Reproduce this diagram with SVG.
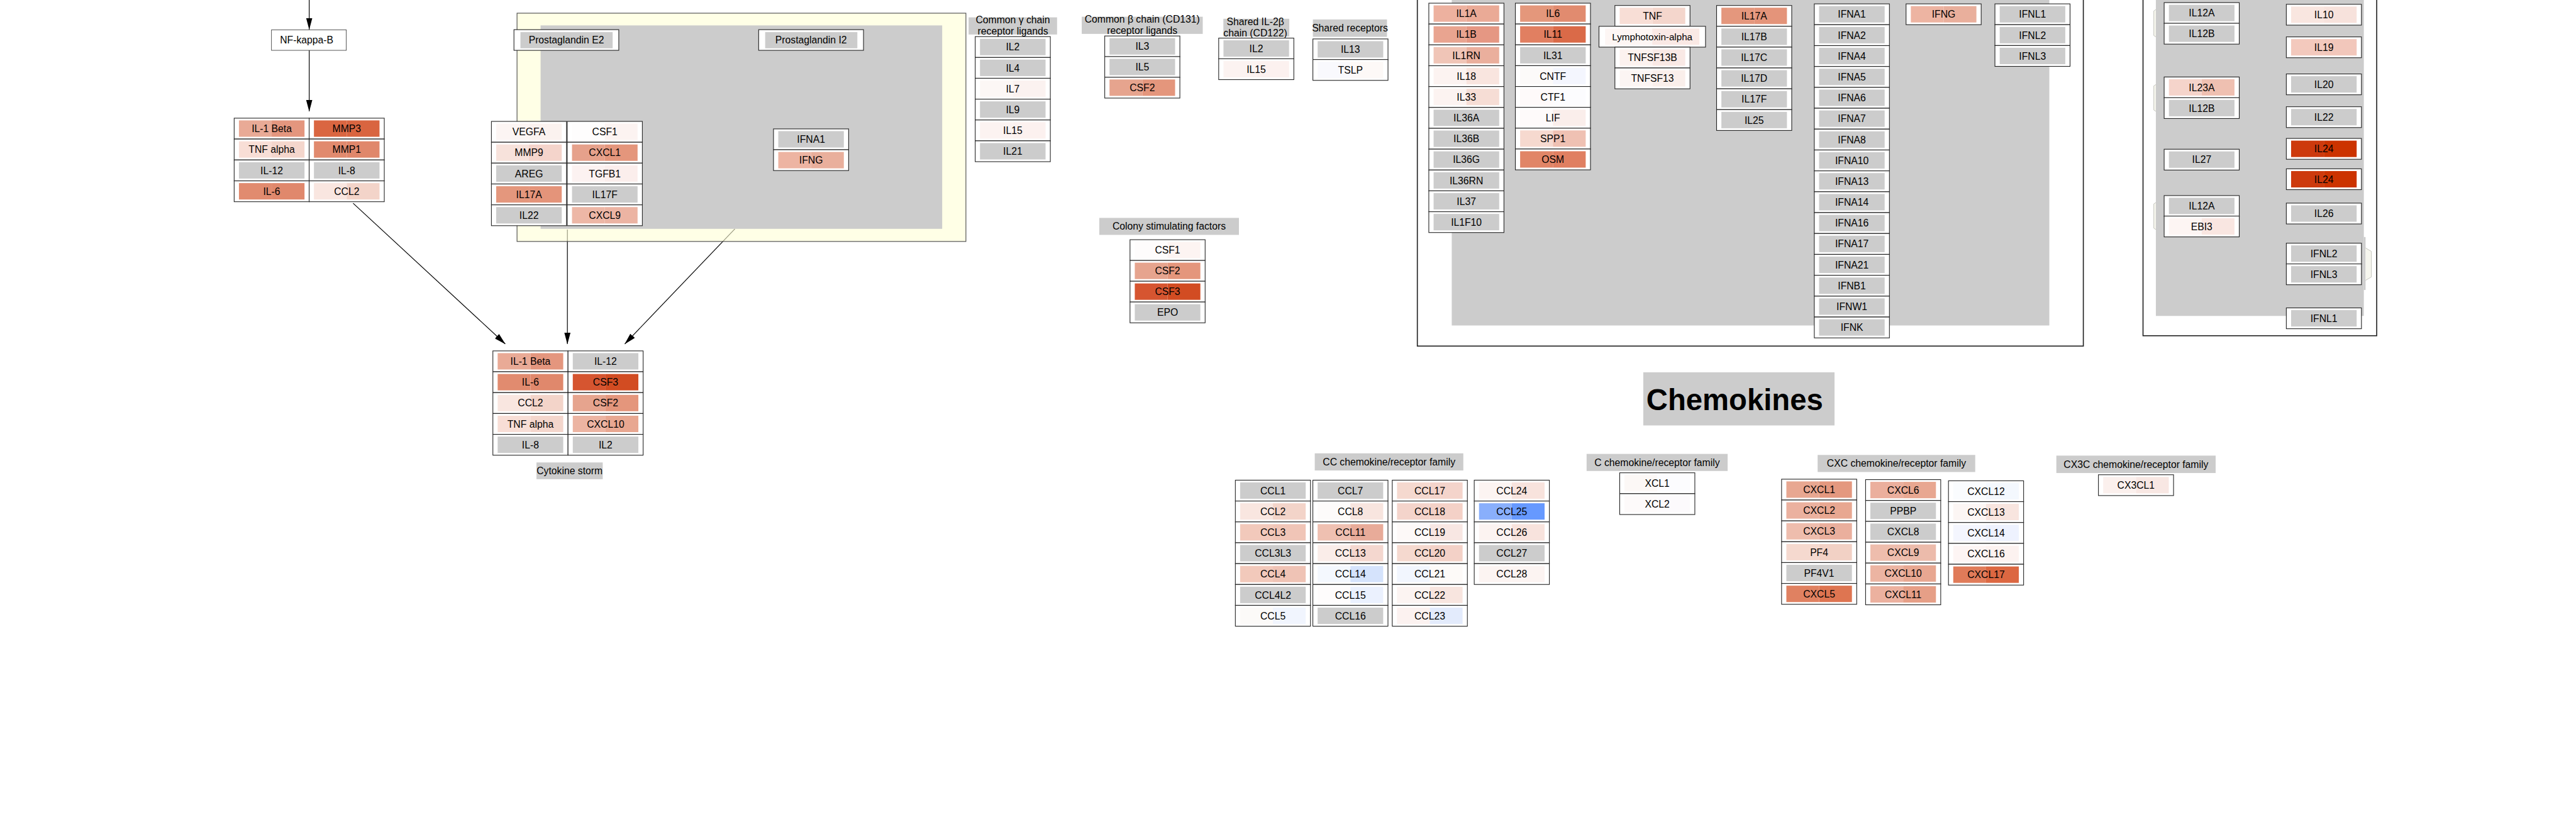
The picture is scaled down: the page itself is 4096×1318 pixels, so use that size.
<svg xmlns="http://www.w3.org/2000/svg" xmlns:xlink="http://www.w3.org/1999/xlink" width="4096" height="1318" viewBox="0 0 4096 1318">
<style>
text{font-family:"Liberation Sans",Arial,Helvetica,sans-serif;font-size:29px;fill:#000;text-anchor:middle}
.bx{fill:#fff;stroke:#222;stroke-width:2}
.gy{fill:#ccc}
.lab{fill:#ccc}
.conn{stroke:#000;stroke-width:2.2;fill:none;marker-end:url(#ah)}
.frame{fill:#fff;stroke:#222;stroke-width:3}
.brk{fill:#f6f6ee;stroke:#b8b8b0;stroke-width:1.5}
</style>
<defs>
<marker id="ah" markerUnits="userSpaceOnUse" markerWidth="34" markerHeight="18" refX="33" refY="9" orient="auto"><path d="M0,0 L34,9 L0,18 z" fill="#000"/></marker>
<rect id="bx" class="bx" width="220" height="61"/>
<rect id="L" x="14" y="6.5" width="96" height="48"/>
<rect id="R" x="110" y="6.5" width="96" height="48"/>
<rect id="F" class="gy" x="14" y="6.5" width="192" height="48"/>
</defs>
<rect width="4096" height="1318" fill="#fff"/>
<g transform="scale(0.543)">

<g id="connectors">
<line class="conn" x1="905.5" y1="0" x2="905.5" y2="86"/>
<line class="conn" x1="905.5" y1="147.5" x2="905.5" y2="326"/>
<line class="conn" x1="1034" y1="595" x2="1479.5" y2="1007"/>
<line class="conn" x1="1661.5" y1="672" x2="1661.5" y2="1007"/>
<line class="conn" x1="2152" y1="670" x2="1829.6" y2="1007"/>
</g>

<g id="nfkappab">
<rect x="795" y="87.4" width="219" height="60" fill="#fff" stroke="#333" stroke-width="1.5"/>
<text x="898" y="127">NF-kappa-B</text>
</g>

<g id="nfkb-targets">
<g id="nt-il1beta" transform="translate(685.7,346)"><use href="#bx"/><use href="#L" fill="#E9AA96"/><use href="#R" fill="#E4967E"/><text x="110" y="41">IL-1 Beta</text></g>
<g id="nt-mmp3" transform="translate(905.3,346)"><use href="#bx"/><use href="#L" fill="#DA6641"/><use href="#R" fill="#D96540"/><text x="110" y="41">MMP3</text></g>
<g id="nt-tnfalpha" transform="translate(685.7,407.2)"><use href="#bx"/><use href="#L" fill="#F8DED6"/><use href="#R" fill="#F4D6CC"/><text x="110" y="41">TNF alpha</text></g>
<g id="nt-mmp1" transform="translate(905.3,407.2)"><use href="#bx"/><use href="#L" fill="#E18A6E"/><use href="#R" fill="#E0876B"/><text x="110" y="41">MMP1</text></g>
<g id="nt-il12" transform="translate(685.7,468.4)"><use href="#bx"/><use href="#F"/><text x="110" y="41">IL-12</text></g>
<g id="nt-il8" transform="translate(905.3,468.4)"><use href="#bx"/><use href="#F"/><text x="110" y="41">IL-8</text></g>
<g id="nt-il6" transform="translate(685.7,529.6)"><use href="#bx"/><use href="#L" fill="#E18B6F"/><use href="#R" fill="#E0886C"/><text x="110" y="41">IL-6</text></g>
<g id="nt-ccl2" transform="translate(905.3,529.6)"><use href="#bx"/><use href="#L" fill="#F9E6E0"/><use href="#R" fill="#F3D4C9"/><text x="110" y="41">CCL2</text></g>
</g>

<g id="prostaglandin-group">
<rect x="1514" y="38.6" width="1314.5" height="668.4" fill="#FFFFD6" fill-opacity="0.6" stroke="#444" stroke-width="2"/>
<rect x="1583" y="74.4" width="1176" height="595.6" fill="#ccc"/>
<g id="pge2" transform="translate(1505,86.8)"><rect class="bx" width="307" height="60.6"/><rect class="gy" x="19" y="7.2" width="270" height="47.4"/><text x="153.5" y="39.5">Prostaglandin E2</text></g>
<g id="pgi2" transform="translate(2221.6,86.8)"><rect class="bx" width="307" height="60.6"/><rect class="gy" x="19" y="7.2" width="270" height="47.4"/><text x="153.5" y="39.5">Prostaglandin I2</text></g>
<g id="pg-vegfa" transform="translate(1439,355.4)"><use href="#bx"/><use href="#L" fill="#FCF5F3"/><use href="#R" fill="#FBF2EF"/><text x="110" y="41">VEGFA</text></g>
<g id="pg-csf1" transform="translate(1661,355.4)"><use href="#bx"/><use href="#L" fill="#FEFDFD"/><use href="#R" fill="#FCF3F1"/><text x="110" y="41">CSF1</text></g>
<g id="pg-mmp9" transform="translate(1439,416.5)"><use href="#bx"/><use href="#L" fill="#F7E2DB"/><use href="#R" fill="#F4D4CB"/><text x="110" y="41">MMP9</text></g>
<g id="pg-cxcl1" transform="translate(1661,416.5)"><use href="#bx"/><use href="#L" fill="#E6A18B"/><use href="#R" fill="#E4967C"/><text x="110" y="41">CXCL1</text></g>
<g id="pg-areg" transform="translate(1439,477.6)"><use href="#bx"/><use href="#F"/><text x="110" y="41">AREG</text></g>
<g id="pg-tgfb1" transform="translate(1661,477.6)"><use href="#bx"/><use href="#L" fill="#FCF2F1"/><use href="#R" fill="#FBEEEC"/><text x="110" y="41">TGFB1</text></g>
<g id="pg-il17a" transform="translate(1439,538.7)"><use href="#bx"/><use href="#L" fill="#E4977D"/><use href="#R" fill="#E4947A"/><text x="110" y="41">IL17A</text></g>
<g id="pg-il17f" transform="translate(1661,538.7)"><use href="#bx"/><use href="#F"/><text x="110" y="41">IL17F</text></g>
<g id="pg-il22" transform="translate(1439,599.8)"><use href="#bx"/><use href="#F"/><text x="110" y="41">IL22</text></g>
<g id="pg-cxcl9" transform="translate(1661,599.8)"><use href="#bx"/><use href="#L" fill="#EDB7A6"/><use href="#R" fill="#ECB4A3"/><text x="110" y="41">CXCL9</text></g>
<g id="pg-ifna1" transform="translate(2265,377.4)"><use href="#bx"/><use href="#F"/><text x="110" y="41">IFNA1</text></g>
<g id="pg-ifng" transform="translate(2265,438.4)"><use href="#bx"/><use href="#L" fill="#EDB4A2"/><use href="#R" fill="#E9AF9C"/><text x="110" y="41">IFNG</text></g>
</g>

<g id="cytokine-storm">
<g id="cs-il1beta" transform="translate(1443.3,1027.4)"><use href="#bx"/><use href="#L" fill="#E9AA96"/><use href="#R" fill="#E4967E"/><text x="110" y="41">IL-1 Beta</text></g>
<g id="cs-il12" transform="translate(1663.3,1027.4)"><use href="#bx"/><use href="#F"/><text x="110" y="41">IL-12</text></g>
<g id="cs-il6" transform="translate(1443.3,1088.5)"><use href="#bx"/><use href="#L" fill="#E18B6F"/><use href="#R" fill="#E0886C"/><text x="110" y="41">IL-6</text></g>
<g id="cs-csf3" transform="translate(1663.3,1088.5)"><use href="#bx"/><use href="#L" fill="#D65530"/><use href="#R" fill="#D24C22"/><text x="110" y="41">CSF3</text></g>
<g id="cs-ccl2" transform="translate(1443.3,1149.6)"><use href="#bx"/><use href="#L" fill="#F9E6E0"/><use href="#R" fill="#F3D4C9"/><text x="110" y="41">CCL2</text></g>
<g id="cs-csf2" transform="translate(1663.3,1149.6)"><use href="#bx"/><use href="#L" fill="#E6A48E"/><use href="#R" fill="#E4967C"/><text x="110" y="41">CSF2</text></g>
<g id="cs-tnfalpha" transform="translate(1443.3,1210.7)"><use href="#bx"/><use href="#L" fill="#F8DED6"/><use href="#R" fill="#F4D6CC"/><text x="110" y="41">TNF alpha</text></g>
<g id="cs-cxcl10" transform="translate(1663.3,1210.7)"><use href="#bx"/><use href="#L" fill="#ECB4A2"/><use href="#R" fill="#E8A791"/><text x="110" y="41">CXCL10</text></g>
<g id="cs-il8" transform="translate(1443.3,1271.8)"><use href="#bx"/><use href="#F"/><text x="110" y="41">IL-8</text></g>
<g id="cs-il2" transform="translate(1663.3,1271.8)"><use href="#bx"/><use href="#F"/><text x="110" y="41">IL2</text></g>
<g id="cs-label"><rect class="lab" x="1571" y="1354" width="194" height="49"/><text x="1668" y="1388.6">Cytokine storm</text></g>
</g>

<g id="common-gamma">
<rect class="lab" x="2836.4" y="50.8" width="259" height="50.2"/>
<text x="2966" y="69">Common γ chain</text>
<text x="2966" y="101">receptor ligands</text>
<g id="cg-il2" transform="translate(2855.7,107.2)"><use href="#bx"/><use href="#F"/><text x="110" y="41">IL2</text></g>
<g id="cg-il4" transform="translate(2855.7,168.2)"><use href="#bx"/><use href="#F"/><text x="110" y="41">IL4</text></g>
<g id="cg-il7" transform="translate(2855.7,229.2)"><use href="#bx"/><use href="#L" fill="#FCF7F5"/><use href="#R" fill="#FBF2F0"/><text x="110" y="41">IL7</text></g>
<g id="cg-il9" transform="translate(2855.7,290.3)"><use href="#bx"/><use href="#F"/><text x="110" y="41">IL9</text></g>
<g id="cg-il15" transform="translate(2855.7,351.3)"><use href="#bx"/><use href="#L" fill="#FCF3F1"/><use href="#R" fill="#FCF1EF"/><text x="110" y="41">IL15</text></g>
<g id="cg-il21" transform="translate(2855.7,412.4)"><use href="#bx"/><use href="#F"/><text x="110" y="41">IL21</text></g>
</g>

<g id="common-beta">
<rect class="lab" x="3167.6" y="49" width="354.4" height="50.2"/>
<text x="3344.8" y="67">Common β chain (CD131)</text>
<text x="3344.8" y="99">receptor ligands</text>
<g id="cb-il3" transform="translate(3235,105.3)"><use href="#bx"/><use href="#F"/><text x="110" y="41">IL3</text></g>
<g id="cb-il5" transform="translate(3235,165.7)"><use href="#bx"/><use href="#F"/><text x="110" y="41">IL5</text></g>
<g id="cb-csf2" transform="translate(3235,226.2)"><use href="#bx"/><use href="#L" fill="#E6A48E"/><use href="#R" fill="#E4967C"/><text x="110" y="41">CSF2</text></g>
</g>

<g id="shared-il2b">
<rect class="lab" x="3582.4" y="55" width="193" height="52"/>
<text x="3676" y="73.5">Shared IL-2β</text>
<text x="3676" y="107">chain (CD122)</text>
<g id="sb-il2" transform="translate(3568.7,111.5)"><use href="#bx"/><use href="#F"/><text x="110" y="41">IL2</text></g>
<g id="sb-il15" transform="translate(3568.7,172.1)"><use href="#bx"/><use href="#L" fill="#FCF3F1"/><use href="#R" fill="#FCF1EF"/><text x="110" y="41">IL15</text></g>
</g>

<g id="shared-receptors">
<rect class="lab" x="3844.5" y="57" width="217" height="50.8"/>
<text x="3953" y="92.5">Shared receptors</text>
<g id="sr-il13" transform="translate(3844.5,114)"><use href="#bx"/><use href="#F"/><text x="110" y="41">IL13</text></g>
<g id="sr-tslp" transform="translate(3844.5,174.3)"><use href="#bx"/><use href="#L" fill="#F9F9FD"/><use href="#R" fill="#FDF9F7"/><text x="110" y="41">TSLP</text></g>
</g>

<g id="colony-stimulating">
<rect class="lab" x="3219" y="638" width="409" height="49.7"/>
<text x="3423.5" y="672.5">Colony stimulating factors</text>
<g id="csf-csf1" transform="translate(3309,701.8)"><use href="#bx"/><use href="#L" fill="#FEFCFC"/><use href="#R" fill="#FDF4F2"/><text x="110" y="41">CSF1</text></g>
<g id="csf-csf2" transform="translate(3309,762.6)"><use href="#bx"/><use href="#L" fill="#E6A48E"/><use href="#R" fill="#E4967C"/><text x="110" y="41">CSF2</text></g>
<g id="csf-csf3" transform="translate(3309,823.4)"><use href="#bx"/><use href="#L" fill="#D65530"/><use href="#R" fill="#D24C22"/><text x="110" y="41">CSF3</text></g>
<g id="csf-epo" transform="translate(3309,884.2)"><use href="#bx"/><use href="#F"/><text x="110" y="41">EPO</text></g>
</g>

<g id="cytokine-families">
<rect class="frame" x="4150.4" y="-20" width="1950.2" height="1033.3"/>
<rect class="gy" x="4251.2" y="-20" width="1749.8" height="973"/>
<g id="il1-family">
<g id="f-il1a" transform="translate(4184,9.3)"><use href="#bx"/><use href="#L" fill="#EDB19F"/><use href="#R" fill="#EAAA96"/><text x="110" y="41">IL1A</text></g>
<g id="f-il1b" transform="translate(4184,70.4)"><use href="#bx"/><use href="#L" fill="#E9A490"/><use href="#R" fill="#E59783"/><text x="110" y="41">IL1B</text></g>
<g id="f-il1rn" transform="translate(4184,131.4)"><use href="#bx"/><use href="#L" fill="#F0C5B7"/><use href="#R" fill="#EAAF9D"/><text x="110" y="41">IL1RN</text></g>
<g id="f-il18" transform="translate(4184,192.5)"><use href="#bx"/><use href="#L" fill="#FCF3F1"/><use href="#R" fill="#F9E5DF"/><text x="110" y="41">IL18</text></g>
<g id="f-il33" transform="translate(4184,253.5)"><use href="#bx"/><use href="#L" fill="#FCF3F1"/><use href="#R" fill="#F6DDD5"/><text x="110" y="41">IL33</text></g>
<g id="f-il36a" transform="translate(4184,314.6)"><use href="#bx"/><use href="#F"/><text x="110" y="41">IL36A</text></g>
<g id="f-il36b" transform="translate(4184,375.7)"><use href="#bx"/><use href="#F"/><text x="110" y="41">IL36B</text></g>
<g id="f-il36g" transform="translate(4184,436.7)"><use href="#bx"/><use href="#F"/><text x="110" y="41">IL36G</text></g>
<g id="f-il36rn" transform="translate(4184,497.8)"><use href="#bx"/><use href="#F"/><text x="110" y="41">IL36RN</text></g>
<g id="f-il37" transform="translate(4184,558.8)"><use href="#bx"/><use href="#F"/><text x="110" y="41">IL37</text></g>
<g id="f-il1f10" transform="translate(4184,619.9)"><use href="#bx"/><use href="#F"/><text x="110" y="41">IL1F10</text></g>
</g>
<g id="il6-family">
<g id="f-il6" transform="translate(4437.4,9.3)"><use href="#bx"/><use href="#L" fill="#E4977B"/><use href="#R" fill="#E18B6F"/><text x="110" y="41">IL6</text></g>
<g id="f-il11" transform="translate(4437.4,70.3)"><use href="#bx"/><use href="#L" fill="#E17F61"/><use href="#R" fill="#DA6A48"/><text x="110" y="41">IL11</text></g>
<g id="f-il31" transform="translate(4437.4,131.3)"><use href="#bx"/><use href="#F"/><text x="110" y="41">IL31</text></g>
<g id="f-cntf" transform="translate(4437.4,192.3)"><use href="#bx"/><use href="#L" fill="#FCFAF9"/><use href="#R" fill="#F4F6FE"/><text x="110" y="41">CNTF</text></g>
<g id="f-ctf1" transform="translate(4437.4,253.3)"><use href="#bx"/><use href="#L" fill="#FEFAFA"/><use href="#R" fill="#FCFCFE"/><text x="110" y="41">CTF1</text></g>
<g id="f-lif" transform="translate(4437.4,314.3)"><use href="#bx"/><use href="#L" fill="#FEFAFA"/><use href="#R" fill="#FAEEEB"/><text x="110" y="41">LIF</text></g>
<g id="f-spp1" transform="translate(4437.4,375.3)"><use href="#bx"/><use href="#L" fill="#F6D9CF"/><use href="#R" fill="#EFC1B3"/><text x="110" y="41">SPP1</text></g>
<g id="f-osm" transform="translate(4437.4,436.3)"><use href="#bx"/><use href="#L" fill="#E18567"/><use href="#R" fill="#E07F61"/><text x="110" y="41">OSM</text></g>
</g>
<g id="tnf-family">
<g id="f-tnf" transform="translate(4728.9,16)"><use href="#bx"/><use href="#L" fill="#F8DED6"/><use href="#R" fill="#F4D6CC"/><text x="110" y="41">TNF</text></g>
<g id="f-lta" transform="translate(4682.3,77)"><rect class="bx" width="312" height="61"/><rect x="18" y="6.5" width="138" height="48" fill="#FDF6F4"/><rect x="156" y="6.5" width="138" height="48" fill="#FAE9E5"/><text x="156" y="41" style="font-size:28px">Lymphotoxin-alpha</text></g>
<g id="f-tnfsf13b" transform="translate(4728.9,138)"><use href="#bx"/><use href="#L" fill="#FCF2EF"/><use href="#R" fill="#F9E9E5"/><text x="110" y="41">TNFSF13B</text></g>
<g id="f-tnfsf13" transform="translate(4728.9,199)"><use href="#bx"/><use href="#L" fill="#FCF5F3"/><use href="#R" fill="#FAEFEB"/><text x="110" y="41">TNFSF13</text></g>
</g>
<g id="il17-family">
<g id="f-il17a" transform="translate(5026.7,16)"><use href="#bx"/><use href="#L" fill="#E4977D"/><use href="#R" fill="#E4947A"/><text x="110" y="41">IL17A</text></g>
<g id="f-il17b" transform="translate(5026.7,77)"><use href="#bx"/><use href="#F"/><text x="110" y="41">IL17B</text></g>
<g id="f-il17c" transform="translate(5026.7,138)"><use href="#bx"/><use href="#F"/><text x="110" y="41">IL17C</text></g>
<g id="f-il17d" transform="translate(5026.7,199)"><use href="#bx"/><use href="#F"/><text x="110" y="41">IL17D</text></g>
<g id="f-il17f" transform="translate(5026.7,260)"><use href="#bx"/><use href="#F"/><text x="110" y="41">IL17F</text></g>
<g id="f-il25" transform="translate(5026.7,321)"><use href="#bx"/><use href="#F"/><text x="110" y="41">IL25</text></g>
</g>
<g id="ifn-type1">
<g id="f-ifna1" transform="translate(5312.8,11.3)"><use href="#bx"/><use href="#F"/><text x="110" y="41">IFNA1</text></g>
<g id="f-ifna2" transform="translate(5312.8,72.4)"><use href="#bx"/><use href="#F"/><text x="110" y="41">IFNA2</text></g>
<g id="f-ifna4" transform="translate(5312.8,133.6)"><use href="#bx"/><use href="#F"/><text x="110" y="41">IFNA4</text></g>
<g id="f-ifna5" transform="translate(5312.8,194.7)"><use href="#bx"/><use href="#F"/><text x="110" y="41">IFNA5</text></g>
<g id="f-ifna6" transform="translate(5312.8,255.8)"><use href="#bx"/><use href="#F"/><text x="110" y="41">IFNA6</text></g>
<g id="f-ifna7" transform="translate(5312.8,316.9)"><use href="#bx"/><use href="#F"/><text x="110" y="41">IFNA7</text></g>
<g id="f-ifna8" transform="translate(5312.8,378.1)"><use href="#bx"/><use href="#F"/><text x="110" y="41">IFNA8</text></g>
<g id="f-ifna10" transform="translate(5312.8,439.2)"><use href="#bx"/><use href="#F"/><text x="110" y="41">IFNA10</text></g>
<g id="f-ifna13" transform="translate(5312.8,500.3)"><use href="#bx"/><use href="#F"/><text x="110" y="41">IFNA13</text></g>
<g id="f-ifna14" transform="translate(5312.8,561.5)"><use href="#bx"/><use href="#F"/><text x="110" y="41">IFNA14</text></g>
<g id="f-ifna16" transform="translate(5312.8,622.6)"><use href="#bx"/><use href="#F"/><text x="110" y="41">IFNA16</text></g>
<g id="f-ifna17" transform="translate(5312.8,683.7)"><use href="#bx"/><use href="#F"/><text x="110" y="41">IFNA17</text></g>
<g id="f-ifna21" transform="translate(5312.8,744.9)"><use href="#bx"/><use href="#F"/><text x="110" y="41">IFNA21</text></g>
<g id="f-ifnb1" transform="translate(5312.8,806)"><use href="#bx"/><use href="#F"/><text x="110" y="41">IFNB1</text></g>
<g id="f-ifnw1" transform="translate(5312.8,867.1)"><use href="#bx"/><use href="#F"/><text x="110" y="41">IFNW1</text></g>
<g id="f-ifnk" transform="translate(5312.8,928.3)"><use href="#bx"/><use href="#F"/><text x="110" y="41">IFNK</text></g>
</g>
<g id="f-ifng" transform="translate(5581.5,11.3)"><use href="#bx"/><use href="#L" fill="#EDB4A2"/><use href="#R" fill="#E9AF9C"/><text x="110" y="41">IFNG</text></g>
<g id="ifn-lambda">
<g id="f-ifnl1" transform="translate(5841.7,11.3)"><use href="#bx"/><use href="#F"/><text x="110" y="41">IFNL1</text></g>
<g id="f-ifnl2" transform="translate(5841.7,72.3)"><use href="#bx"/><use href="#F"/><text x="110" y="41">IFNL2</text></g>
<g id="f-ifnl3" transform="translate(5841.7,133.3)"><use href="#bx"/><use href="#F"/><text x="110" y="41">IFNL3</text></g>
</g>
</g>

<g id="il12-il10-families">
<rect class="frame" x="6275.4" y="-20" width="684.3" height="1003"/>
<rect class="gy" x="6313" y="-20" width="609" height="945"/>
<rect class="gy" x="6922" y="694" width="5" height="155"/>
<path class="brk" d="M6313,28 L6307,32 L6307,104 L6313,108"/>
<path class="brk" d="M6313,247.5 L6307,251.5 L6307,322 L6313,326"/>
<path class="brk" d="M6313,593 L6307,597 L6307,668 L6313,672"/>
<path class="brk" d="M6927,726 L6944,736 L6944,811 L6927,821"/>
<g id="c-il12"><g id="r-il12a" transform="translate(6337.2,7.6)"><use href="#bx"/><use href="#F"/><text x="110" y="41">IL12A</text></g>
<g id="r-il12b" transform="translate(6337.2,68.2)"><use href="#bx"/><use href="#F"/><text x="110" y="41">IL12B</text></g></g>
<g id="c-il23"><g id="r-il23a" transform="translate(6337.2,225.4)"><use href="#bx"/><use href="#L" fill="#F5D4CB"/><use href="#R" fill="#EFC0B1"/><text x="110" y="41">IL23A</text></g>
<g id="r-il12b-2" transform="translate(6337.2,286)"><use href="#bx"/><use href="#F"/><text x="110" y="41">IL12B</text></g></g>
<g id="r-il27" transform="translate(6337.2,436.9)"><use href="#bx"/><use href="#F"/><text x="110" y="41">IL27</text></g>
<g id="c-il35"><g id="r-il12a-2" transform="translate(6337.2,572.6)"><use href="#bx"/><use href="#F"/><text x="110" y="41">IL12A</text></g>
<g id="r-ebi3" transform="translate(6337.2,632.6)"><use href="#bx"/><use href="#L" fill="#FDF5F3"/><use href="#R" fill="#F9E6E1"/><text x="110" y="41">EBI3</text></g></g>
<g id="r-il10" transform="translate(6695,12.6)"><use href="#bx"/><use href="#L" fill="#F9E6E0"/><use href="#R" fill="#F7E2DC"/><text x="110" y="41">IL10</text></g>
<g id="r-il19" transform="translate(6695,108)"><use href="#bx"/><use href="#L" fill="#F3C9BD"/><use href="#R" fill="#F2C7BB"/><text x="110" y="41">IL19</text></g>
<g id="r-il20" transform="translate(6695,216.5)"><use href="#bx"/><use href="#F"/><text x="110" y="41">IL20</text></g>
<g id="r-il22" transform="translate(6695,312.5)"><use href="#bx"/><use href="#F"/><text x="110" y="41">IL22</text></g>
<g id="r-il24" transform="translate(6695,405.3)"><use href="#bx"/><use href="#L" fill="#CD3A0D"/><use href="#R" fill="#CC3300"/><text x="110" y="41">IL24</text></g>
<g id="r-il24-2" transform="translate(6695,494.3)"><use href="#bx"/><use href="#L" fill="#CD3A0D"/><use href="#R" fill="#CC3300"/><text x="110" y="41">IL24</text></g>
<g id="r-il26" transform="translate(6695,594.7)"><use href="#bx"/><use href="#F"/><text x="110" y="41">IL26</text></g>
<g id="c-ifnl23"><g id="r-ifnl2" transform="translate(6695,712)"><use href="#bx"/><use href="#F"/><text x="110" y="41">IFNL2</text></g>
<g id="r-ifnl3" transform="translate(6695,772.7)"><use href="#bx"/><use href="#F"/><text x="110" y="41">IFNL3</text></g></g>
<g id="r-ifnl1" transform="translate(6695,901.5)"><use href="#bx"/><use href="#F"/><text x="110" y="41">IFNL1</text></g>
</g>

<g id="chemokines-title">
<rect class="lab" x="4812" y="1090" width="560" height="155.7"/>
<text x="4821" y="1201" style="font-size:87px;font-weight:bold;text-anchor:start">Chemokines</text>
</g>

<g id="cc-family">
<rect class="lab" x="3850" y="1327.3" width="435" height="50.2"/>
<text x="4067.5" y="1362.6">CC chemokine/receptor family</text>
<g id="ccl1" transform="translate(3617.5,1405.9)"><use href="#bx"/><use href="#F"/><text x="110" y="41">CCL1</text></g>
<g id="ccl2" transform="translate(3617.5,1467)"><use href="#bx"/><use href="#L" fill="#F9E6E0"/><use href="#R" fill="#F3D4C9"/><text x="110" y="41">CCL2</text></g>
<g id="ccl3" transform="translate(3617.5,1528.1)"><use href="#bx"/><use href="#L" fill="#F2C9BB"/><use href="#R" fill="#F0C5B7"/><text x="110" y="41">CCL3</text></g>
<g id="ccl3l3" transform="translate(3617.5,1589.2)"><use href="#bx"/><use href="#F"/><text x="110" y="41">CCL3L3</text></g>
<g id="ccl4" transform="translate(3617.5,1650.3)"><use href="#bx"/><use href="#L" fill="#F2C9BB"/><use href="#R" fill="#EFC3B5"/><text x="110" y="41">CCL4</text></g>
<g id="ccl4l2" transform="translate(3617.5,1711.4)"><use href="#bx"/><use href="#F"/><text x="110" y="41">CCL4L2</text></g>
<g id="ccl5" transform="translate(3617.5,1772.5)"><use href="#bx"/><use href="#L" fill="#FCFAF8"/><use href="#R" fill="#F1F5FE"/><text x="110" y="41">CCL5</text></g>
<g id="ccl7" transform="translate(3844.4,1405.9)"><use href="#bx"/><use href="#F"/><text x="110" y="41">CCL7</text></g>
<g id="ccl8" transform="translate(3844.4,1467)"><use href="#bx"/><use href="#L" fill="#FDFBFA"/><use href="#R" fill="#F8E5DF"/><text x="110" y="41">CCL8</text></g>
<g id="ccl11" transform="translate(3844.4,1528.1)"><use href="#bx"/><use href="#L" fill="#EFC0B1"/><use href="#R" fill="#E8AB99"/><text x="110" y="41">CCL11</text></g>
<g id="ccl13" transform="translate(3844.4,1589.2)"><use href="#bx"/><use href="#L" fill="#FAEDE9"/><use href="#R" fill="#F4D7CF"/><text x="110" y="41">CCL13</text></g>
<g id="ccl14" transform="translate(3844.4,1650.3)"><use href="#bx"/><use href="#L" fill="#F4F8FE"/><use href="#R" fill="#D5E3FC"/><text x="110" y="41">CCL14</text></g>
<g id="ccl15" transform="translate(3844.4,1711.4)"><use href="#bx"/><use href="#L" fill="#FEFCFC"/><use href="#R" fill="#EBF1FE"/><text x="110" y="41">CCL15</text></g>
<g id="ccl16" transform="translate(3844.4,1772.5)"><use href="#bx"/><use href="#F"/><text x="110" y="41">CCL16</text></g>
<g id="ccl17" transform="translate(4076.9,1405.9)"><use href="#bx"/><use href="#L" fill="#F5D9CF"/><use href="#R" fill="#F4D4CB"/><text x="110" y="41">CCL17</text></g>
<g id="ccl18" transform="translate(4076.9,1467)"><use href="#bx"/><use href="#L" fill="#F4D4CB"/><use href="#R" fill="#F4D1C7"/><text x="110" y="41">CCL18</text></g>
<g id="ccl19" transform="translate(4076.9,1528.1)"><use href="#bx"/><use href="#L" fill="#FDF9F8"/><use href="#R" fill="#F8E7E3"/><text x="110" y="41">CCL19</text></g>
<g id="ccl20" transform="translate(4076.9,1589.2)"><use href="#bx"/><use href="#L" fill="#F5D9CF"/><use href="#R" fill="#F3D1C7"/><text x="110" y="41">CCL20</text></g>
<g id="ccl21" transform="translate(4076.9,1650.3)"><use href="#bx"/><use href="#L" fill="#F2F6FE"/><use href="#R" fill="#FDFAF8"/><text x="110" y="41">CCL21</text></g>
<g id="ccl22" transform="translate(4076.9,1711.4)"><use href="#bx"/><use href="#L" fill="#FCF4F2"/><use href="#R" fill="#F8E5DF"/><text x="110" y="41">CCL22</text></g>
<g id="ccl23" transform="translate(4076.9,1772.5)"><use href="#bx"/><use href="#L" fill="#FCF2F0"/><use href="#R" fill="#E3EBFC"/><text x="110" y="41">CCL23</text></g>
<g id="ccl24" transform="translate(4317,1405.9)"><use href="#bx"/><use href="#L" fill="#FCF4F2"/><use href="#R" fill="#F8E3DD"/><text x="110" y="41">CCL24</text></g>
<g id="ccl25" transform="translate(4317,1467)"><use href="#bx"/><use href="#L" fill="#89AFFC"/><use href="#R" fill="#6699FF"/><text x="110" y="41">CCL25</text></g>
<g id="ccl26" transform="translate(4317,1528.1)"><use href="#bx"/><use href="#L" fill="#FCF3F1"/><use href="#R" fill="#F8E3DD"/><text x="110" y="41">CCL26</text></g>
<g id="ccl27" transform="translate(4317,1589.2)"><use href="#bx"/><use href="#F"/><text x="110" y="41">CCL27</text></g>
<g id="ccl28" transform="translate(4317,1650.3)"><use href="#bx"/><use href="#L" fill="#FCF4F2"/><use href="#R" fill="#FCF4F2"/><text x="110" y="41">CCL28</text></g>
</g>

<g id="c-family">
<rect class="lab" x="4646" y="1329" width="413" height="50"/>
<text x="4852.5" y="1364">C chemokine/receptor family</text>
<g id="xcl1" transform="translate(4743,1384.3)"><use href="#bx"/><use href="#L" fill="#FCF8F6"/><use href="#R" fill="#FCFCFE"/><text x="110" y="41">XCL1</text></g>
<g id="xcl2" transform="translate(4743,1445.5)"><use href="#bx"/><use href="#L" fill="#FDFAFA"/><use href="#R" fill="#FCFAFC"/><text x="110" y="41">XCL2</text></g>
</g>

<g id="cxc-family">
<rect class="lab" x="5322.6" y="1332" width="461.4" height="50"/>
<text x="5553.3" y="1367">CXC chemokine/receptor family</text>
<g id="cxcl1" transform="translate(5217,1403)"><use href="#bx"/><use href="#L" fill="#E8A791"/><use href="#R" fill="#E4987F"/><text x="110" y="41">CXCL1</text></g>
<g id="cxcl2" transform="translate(5217,1464.1)"><use href="#bx"/><use href="#L" fill="#EBB19F"/><use href="#R" fill="#E8A791"/><text x="110" y="41">CXCL2</text></g>
<g id="cxcl3" transform="translate(5217,1525.1)"><use href="#bx"/><use href="#L" fill="#EEBDAD"/><use href="#R" fill="#EAAF9D"/><text x="110" y="41">CXCL3</text></g>
<g id="pf4" transform="translate(5217,1586.2)"><use href="#bx"/><use href="#L" fill="#F5D9CF"/><use href="#R" fill="#F2D1C5"/><text x="110" y="41">PF4</text></g>
<g id="pf4v1" transform="translate(5217,1647.2)"><use href="#bx"/><use href="#F"/><text x="110" y="41">PF4V1</text></g>
<g id="cxcl5" transform="translate(5217,1708.3)"><use href="#bx"/><use href="#L" fill="#E08161"/><use href="#R" fill="#DE7551"/><text x="110" y="41">CXCL5</text></g>
<g id="cxcl6" transform="translate(5463,1404.3)"><use href="#bx"/><use href="#L" fill="#EBAF9D"/><use href="#R" fill="#E8A791"/><text x="110" y="41">CXCL6</text></g>
<g id="ppbp" transform="translate(5463,1465.4)"><use href="#bx"/><use href="#F"/><text x="110" y="41">PPBP</text></g>
<g id="cxcl8" transform="translate(5463,1526.5)"><use href="#bx"/><use href="#F"/><text x="110" y="41">CXCL8</text></g>
<g id="cxcl9" transform="translate(5463,1587.6)"><use href="#bx"/><use href="#L" fill="#EEBDAD"/><use href="#R" fill="#ECBBAB"/><text x="110" y="41">CXCL9</text></g>
<g id="cxcl10" transform="translate(5463,1648.7)"><use href="#bx"/><use href="#L" fill="#ECB4A2"/><use href="#R" fill="#E8A791"/><text x="110" y="41">CXCL10</text></g>
<g id="cxcl11" transform="translate(5463,1709.8)"><use href="#bx"/><use href="#L" fill="#ECB19F"/><use href="#R" fill="#E69F87"/><text x="110" y="41">CXCL11</text></g>
<g id="cxcl12" transform="translate(5705.7,1407.7)"><use href="#bx"/><use href="#L" fill="#FAFCFE"/><use href="#R" fill="#F4F8FE"/><text x="110" y="41">CXCL12</text></g>
<g id="cxcl13" transform="translate(5705.7,1468.8)"><use href="#bx"/><use href="#L" fill="#FCF6F4"/><use href="#R" fill="#F8E5DF"/><text x="110" y="41">CXCL13</text></g>
<g id="cxcl14" transform="translate(5705.7,1529.9)"><use href="#bx"/><use href="#L" fill="#F4F6FE"/><use href="#R" fill="#EEF2FE"/><text x="110" y="41">CXCL14</text></g>
<g id="cxcl16" transform="translate(5705.7,1591)"><use href="#bx"/><use href="#L" fill="#FDF5F4"/><use href="#R" fill="#FCF2F0"/><text x="110" y="41">CXCL16</text></g>
<g id="cxcl17" transform="translate(5705.7,1652.1)"><use href="#bx"/><use href="#L" fill="#E07B59"/><use href="#R" fill="#DC6741"/><text x="110" y="41">CXCL17</text></g>
</g>

<g id="cx3c-family">
<rect class="lab" x="6021.6" y="1334" width="466.4" height="51"/>
<text x="6254.8" y="1369.5">CX3C chemokine/receptor family</text>
<g id="cx3cl1" transform="translate(6144.8,1390)"><use href="#bx"/><use href="#L" fill="#FBF0ED"/><use href="#R" fill="#F8E7E3"/><text x="110" y="41">CX3CL1</text></g>
</g>

</g>
</svg>
